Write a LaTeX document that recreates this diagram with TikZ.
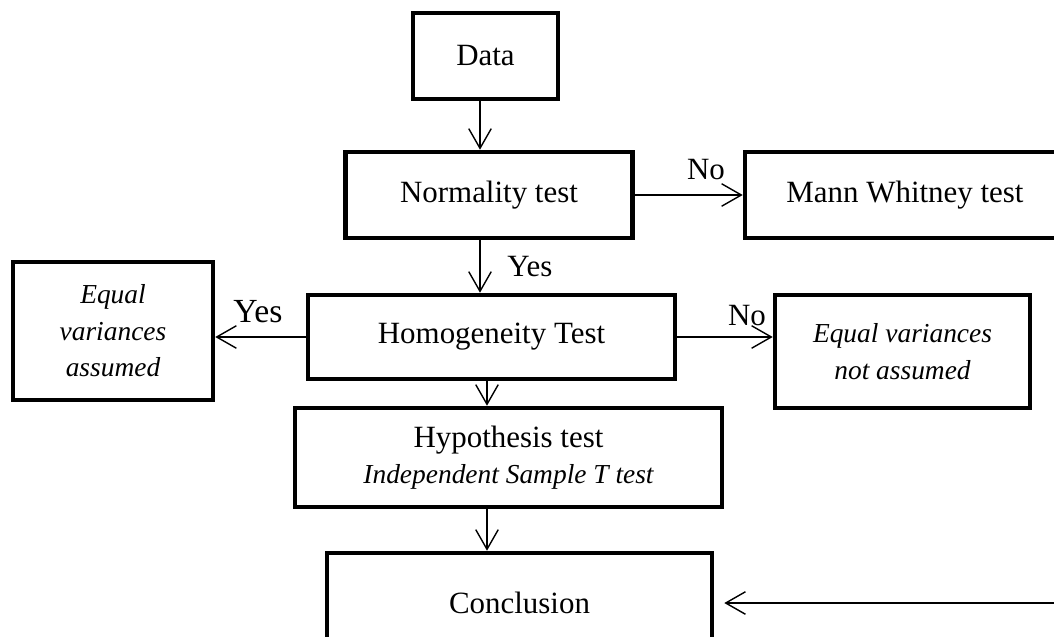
\documentclass[tikz,border=0pt]{standalone}
\usepackage{fontspec}
\setmainfont{Liberation Serif}
\usetikzlibrary{calc}
\usetikzlibrary{arrows.meta}

\begin{document}
\begin{tikzpicture}[x=0.025cm,y=-0.025cm]
	\tikzstyle{every node}=[font=\fontsize{22}{26}\selectfont]
	\tikzstyle{box}=[draw, line width=3.2pt, align=center, inner sep=0pt]
	\tikzstyle{arr}=[line width=1pt, -{Straight Barb[length=14pt,width=16pt,line width=1pt]}]
	\tikzstyle{italics}=[font=\fontsize{19.5}{26}\selectfont\itshape]
	
	\useasboundingbox (0,0) rectangle (1054,637);
	\clip (0,0) rectangle (1054,637);
	
	% Boxes
	\node[box, minimum width=3.625cm, minimum height=2.15cm] (data) at (485.5,56) {Data};
	\node[box, minimum width=7.175cm, minimum height=2.15cm] (norm) at (489,195) {Normality test};
	\node[box, minimum width=8cm, minimum height=2.15cm] (mann) at (905,195) {Mann Whitney test};
	\node[box, minimum width=9.175cm, minimum height=2.1cm] (homog) at (491.5,337) {Homogeneity Test};
	\node[box, italics, minimum width=5cm, minimum height=3.45cm] (eqa) at (113,331) {Equal\\ variances\\ assumed};
	\node[box, italics, minimum width=6.375cm, minimum height=2.825cm] (eqna) at (902.5,351.5) {Equal variances\\ not assumed};
	\node[box, minimum width=10.675cm, minimum height=2.475cm] (hypo) at (508.5,457.5) {Hypothesis test\\ {\fontsize{19.5}{26}\selectfont\itshape Independent Sample T test}};
	\node[box, minimum width=9.625cm, minimum height=2.5cm] (concl) at (519.5,603) {Conclusion};
	
	% Connectors
	\coordinate (spine) at (480,0);
	\coordinate (spinetwo) at (487,0);
	\coordinate (rin) at (1054,603);
	\draw[arr] (data.south -| spine) -- (norm.north -| spine);
	\draw[arr] (norm.south -| spine) -- (homog.north -| spine);
	\draw[arr] (norm.east) -- (norm.east -| mann.west);
	\draw[arr] (homog.west) -- (homog.west -| eqa.east);
	\draw[arr] (homog.east) -- (homog.east -| eqna.west);
	\draw[arr] (homog.south -| spinetwo) -- (hypo.north -| spinetwo);
	\draw[arr] (hypo.south -| spinetwo) -- (concl.north -| spinetwo);
	\draw[arr] (rin) -- ($(concl.east)+(10,0)$);
	
	% Labels
	\node (nofirst) at (706,170) {No};
	\node (yesfirst) at (530,267) {Yes};
	\node[font=\fontsize{24}{28}\selectfont] (yessecond) at (258,312) {Yes};
	\node (nosecond) at (747,316) {No};
\end{tikzpicture}
\end{document}
